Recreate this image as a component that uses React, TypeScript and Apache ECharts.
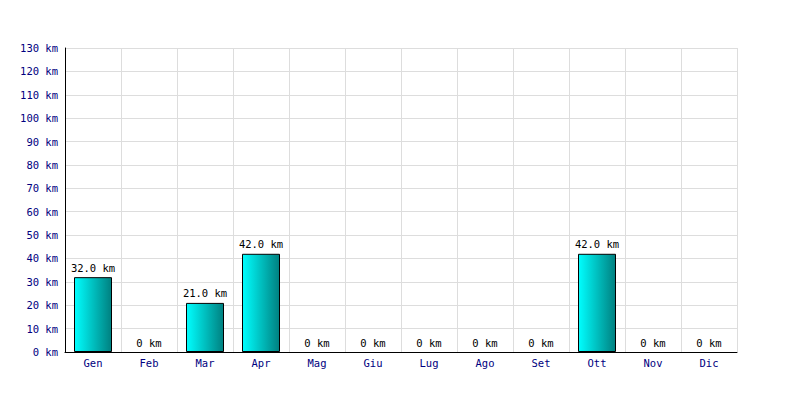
import React, { useEffect, useRef } from "react";
import * as echarts from "echarts";

const months = ["Gen", "Feb", "Mar", "Apr", "Mag", "Giu", "Lug", "Ago", "Set", "Ott", "Nov", "Dic"];
const distances = [32, 0, 21, 42, 0, 0, 0, 0, 0, 42, 0, 0];
const yMax = 130;
const yStep = 10;
const unit = "km";

export default function App() {
  const ref = useRef<HTMLDivElement>(null);
  useEffect(() => {
    if (!ref.current) return;
    document.body.style.margin = "0";
    const chart = echarts.init(ref.current, undefined, { renderer: "svg" });
    const font = "'DejaVu Sans Mono', monospace";
    chart.setOption({
      animation: false,
      backgroundColor: "#ffffff",
      grid: { left: 65, right: 63, top: 48, bottom: 48 },
      xAxis: {
        type: "category",
        data: months,
        boundaryGap: true,
        axisLine: { show: true, lineStyle: { color: "#000", width: 1 } },
        axisTick: { show: false },
        axisLabel: { color: "#000080", fontFamily: font, fontSize: 10.5, margin: 5 },
        splitLine: { show: true, lineStyle: { color: "#dddddd", width: 1 } },
      },
      yAxis: {
        type: "value",
        min: 0,
        max: yMax,
        interval: yStep,
        axisLine: { show: true, lineStyle: { color: "#000", width: 1 } },
        axisTick: { show: false },
        axisLabel: {
          color: "#000080",
          fontFamily: font,
          fontSize: 10.5,
          margin: 7,
          formatter: (v: number) => `${v} ${unit}`,
        },
        splitLine: { show: true, lineStyle: { color: "#dddddd", width: 1 } },
      },
      series: [
        {
          type: "bar",
          data: distances.map((v) =>
            v === 0
              ? { value: v, itemStyle: { color: "transparent", borderColor: "transparent", borderWidth: 0 } }
              : { value: v }
          ),
          barWidth: 38,
          itemStyle: {
            color: new echarts.graphic.LinearGradient(0, 0, 1, 0, [
              { offset: 0, color: "#00ffff" },
              { offset: 1, color: "#008080" },
            ]),
            borderColor: "#000",
            borderWidth: 1,
          },
          label: {
            show: true,
            position: "top",
            distance: 4,
            color: "#000",
            textBorderWidth: 0,
            fontFamily: font,
            fontSize: 10.5,
            formatter: (p: any) => (p.value === 0 ? `0 ${unit}` : `${p.value.toFixed(1)} ${unit}`),
          },
        },
      ],
    });
    return () => chart.dispose();
  }, []);
  return <div ref={ref} style={{ width: 800, height: 400 }} />;
}
